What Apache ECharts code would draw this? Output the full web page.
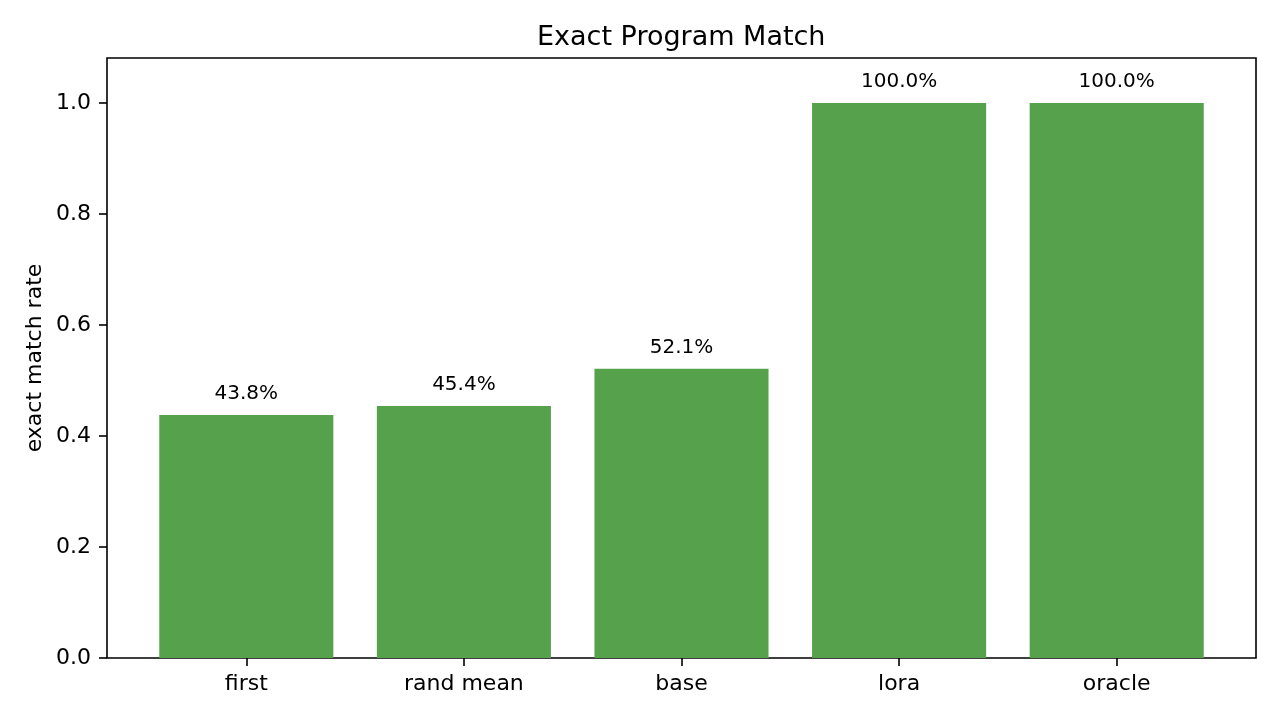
<!DOCTYPE html>
<html>
<head>
<meta charset="utf-8">
<script src="https://cdn.jsdelivr.net/npm/echarts@6/dist/echarts.min.js"></script>
<style>
  html, body { margin: 0; padding: 0; background: #fff; }
  #chart { width: 1280px; height: 720px; }
</style>
</head>
<body>
<div id="chart"></div>
<script>
var categories = ['first', 'rand mean', 'base', 'lora', 'oracle'];
var matchRate = [0.438, 0.454, 0.521, 1.0, 1.0];
var yTicks = [0, 0.2, 0.4, 0.6, 0.8, 1.0];

var font = 'DejaVu Sans';
var barColor = '#56a24c';

var myChart = echarts.init(document.getElementById('chart'));

var option = {
    backgroundColor: '#fff',
    animation: false,
    textStyle: { fontFamily: font, color: '#000' },
    title: {
        text: 'Exact Program Match',
        left: 532,
        top: 19,
        textStyle: { fontFamily: font, fontSize: 27, fontWeight: 'normal', color: '#000' }
    },
    grid: [
        // frame
        { left: 107, top: 58, width: 1149, height: 600, show: true,
          borderColor: '#000', borderWidth: 1.6, backgroundColor: 'transparent', containLabel: false },
        // y ticks (0..1)
        { left: 107, top: 103, width: 1149, height: 555, containLabel: false },
        // bars
        { left: 137.5, top: 103, width: 1088, height: 555, containLabel: false }
    ],
    xAxis: [
        { gridIndex: 0, type: 'value', show: false, min: 0, max: 1 },
        { gridIndex: 1, type: 'value', show: false, min: 0, max: 1 },
        {
            gridIndex: 2,
            type: 'category',
            data: categories,
            axisLine: { show: false },
            axisTick: { show: true, alignWithLabel: true, length: 8, lineStyle: { color: '#000', width: 1.6 } },
            axisLabel: { color: '#000', fontFamily: font, fontSize: 22, margin: 15 },
            splitLine: { show: false }
        }
    ],
    yAxis: [
        {
            gridIndex: 0,
            type: 'value',
            min: 0,
            max: 1,
            name: 'exact match rate',
            nameLocation: 'middle',
            nameGap: 61,
            nameTextStyle: { fontFamily: font, fontSize: 22, color: '#000' },
            axisLine: { show: false },
            axisTick: { show: false },
            axisLabel: { show: false },
            splitLine: { show: false }
        },
        {
            gridIndex: 1,
            type: 'value',
            min: yTicks[0],
            max: yTicks[yTicks.length - 1],
            interval: 0.2,
            axisLine: { show: false },
            axisTick: { show: true, length: 8, lineStyle: { color: '#000', width: 1.6 } },
            axisLabel: {
                color: '#000', fontFamily: font, fontSize: 22, margin: 16,
                formatter: function (v) { return v.toFixed(1); }
            },
            splitLine: { show: false }
        },
        { gridIndex: 2, type: 'value', show: false, min: 0, max: 1 }
    ],
    series: [
        {
            type: 'bar',
            xAxisIndex: 2,
            yAxisIndex: 2,
            data: matchRate,
            barWidth: '80%',
            itemStyle: { color: barColor },
            label: {
                show: true,
                position: 'top',
                distance: 10,
                color: '#000',
                fontFamily: font,
                fontSize: 20,
                lineHeight: 22,
                formatter: function (p) { return (p.value * 100).toFixed(1) + '%'; }
            }
        }
    ]
};

myChart.setOption(option);
</script>
</body>
</html>
